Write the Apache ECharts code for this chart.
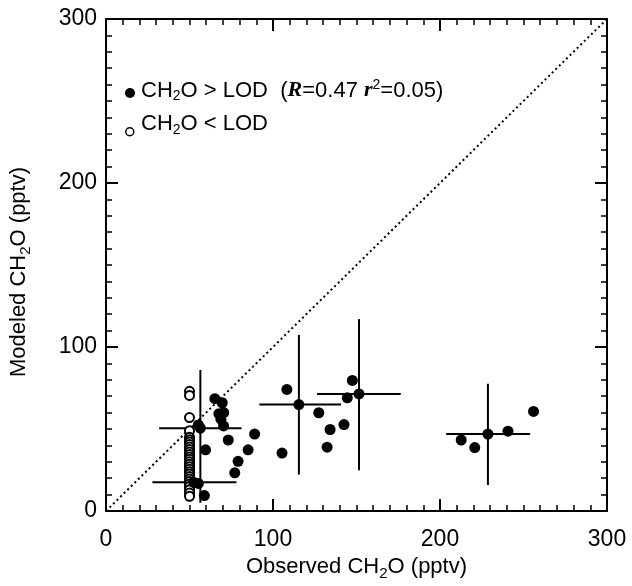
<!DOCTYPE html>
<html>
<head>
<meta charset="utf-8">
<script src="https://cdn.jsdelivr.net/npm/echarts@6/dist/echarts.min.js"></script>
<style>
html,body{margin:0;padding:0;background:#fff;}
#chart{width:632px;height:586px;}
</style>
</head>
<body>
<div id="chart"></div>
<script>
// ---- data ----
const xTicks = [0, 100, 200, 300];
const yTicks = [0, 100, 200, 300];

// CH2O > LOD (filled) individual points
const aboveX = [65.2, 69.6, 67.6, 70.5, 68.8, 70.4, 59.6, 73.2, 89.0, 85.1, 79.1, 77.1, 105.4, 55.3, 58.9, 55.3,
                108.3, 127.4, 134.2, 132.4, 142.5, 144.5, 147.5, 212.7, 220.8, 240.7, 256.0];
const aboveY = [68.5, 66.0, 59.3, 60.0, 56.0, 51.9, 37.3, 43.3, 46.9, 37.3, 30.3, 23.3, 35.3, 16.8, 9.4, 52.5,
                74.1, 59.9, 49.7, 38.9, 52.7, 69.0, 79.6, 43.3, 38.7, 48.7, 60.7];

// CH2O < LOD (open) points, a dense stack at the LOD
const belowX = [50, 50, 50, 50, 50, 50, 50, 50, 50, 50, 50, 50, 50, 50, 50, 50, 50, 50, 50, 50, 50, 50, 50, 50, 50, 50, 50, 50];
const belowY = [73, 70.5, 57, 49, 45, 43.5, 42, 40.5, 39, 37.5, 36, 34.5, 33, 31.5, 30, 28.5, 27, 25.5, 24, 22.5, 21, 19.5, 18, 16.5, 15, 13, 11, 9];

// binned means with spread bars
const meanX   = [56.5, 52.5, 115.5, 151.5, 228.7];
const meanY   = [50.5, 17.5, 64.9, 71.4, 46.9];
const meanXlo = [31.8, 27.8, 91.8, 126.4, 203.7];
const meanXhi = [81.1, 78.1, 140.7, 176.5, 254.0];
const meanYlo = [5.0, 8.0, 22.2, 24.8, 15.8];
const meanYhi = [86.0, 30.0, 107.4, 117.0, 77.6];

// 1:1 line
const oneToOne = [[0, 0], [300, 300]];

// ---- chart ----
const FONT = '"Liberation Sans", Arial, Helvetica, sans-serif';
const zip = (a, b) => a.map((v, i) => [v, b[i]]);
const errData = meanX.map((v, i) => [v, meanY[i], meanXlo[i], meanXhi[i], meanYlo[i], meanYhi[i]]);

const nameRich = {
  n: {fontFamily: FONT, fontSize: 22, color: '#000'},
  s: {fontFamily: FONT, fontSize: 15, color: '#000', padding: [13, 0, 0, 0]}
};

function axisCommon(showLabel, pos) {
  return {
    type: 'value', min: 0, max: 300, interval: 100, position: pos,
    axisLine: {show: true, onZero: false, lineStyle: {color: '#000', width: 2}},
    axisTick: {show: true, inside: true, length: 12, lineStyle: {color: '#000', width: 2}},
    minorTick: {show: true, splitNumber: 10, length: 6, lineStyle: {color: '#000', width: 1.5}},
    splitLine: {show: false},
    axisLabel: {show: showLabel, color: '#000', fontFamily: FONT, fontSize: 23}
  };
}

const xBottom = Object.assign(axisCommon(true, 'bottom'), {
  name: '{n|Observed CH}{s|2}{n|O (pptv)}', nameLocation: 'middle', nameGap: 42,
  nameTextStyle: {rich: nameRich}
});
xBottom.axisLabel.margin = 17;
const xTop = axisCommon(false, 'top');
const yLeft = Object.assign(axisCommon(true, 'left'), {
  name: '{n|Modeled CH}{s|2}{n|O (pptv)}', nameLocation: 'middle', nameGap: 73,
  nameTextStyle: {rich: nameRich, padding: [0, 14, 0, 0]}
});
yLeft.axisLabel.margin = 9;
const yRight = axisCommon(false, 'right');

const legRich = {
  n: {fontFamily: FONT, fontSize: 22, color: '#000'},
  s: {fontFamily: FONT, fontSize: 14, color: '#000', padding: [12, 0, 0, 0]},
  r: {fontFamily: '"Liberation Serif", "Times New Roman", serif', fontSize: 22, fontWeight: 'bold', fontStyle: 'italic', color: '#000'},
  p: {fontFamily: FONT, fontSize: 14, color: '#000', padding: [0, 0, 11, 0]}
};

const chart = echarts.init(document.getElementById('chart'), null, {renderer: 'canvas'});
chart.setOption({
  backgroundColor: '#fff',
  animation: false,
  grid: {left: 104, top: 19, right: 25, bottom: 68, containLabel: false},
  xAxis: [xBottom, xTop],
  yAxis: [yLeft, yRight],
  graphic: [
    {type: 'circle', left: 125, top: 88, shape: {r: 5}, style: {fill: '#000'}},
    {type: 'text', left: 141, top: 78, style: {
      text: '{n|CH}{s|2}{n|O > LOD  (}{r|R}{n|=0.47 }{r|r}{p|2}{n|=0.05)}', rich: legRich}},
    {type: 'circle', left: 125, top: 127, shape: {r: 4}, style: {fill: '#fff', stroke: '#000', lineWidth: 1.5}},
    {type: 'text', left: 141, top: 113, style: {
      text: '{n|CH}{s|2}{n|O < LOD}', rich: legRich}}
  ],
  series: [
    {
      type: 'line', data: oneToOne, symbol: 'none', silent: true,
      lineStyle: {color: '#000', width: 2, type: [2, 3]}, z: 1
    },
    {
      type: 'custom', data: errData, z: 3,
      encode: {x: [0, 2, 3], y: [1, 4, 5]},
      renderItem: function (params, api) {
        const x = api.value(0), y = api.value(1);
        const a = api.coord([api.value(2), y]), b = api.coord([api.value(3), y]);
        const c = api.coord([x, api.value(4)]), d = api.coord([x, api.value(5)]);
        return {type: 'group', children: [
          {type: 'line', shape: {x1: a[0], y1: a[1], x2: b[0], y2: b[1]}, style: {stroke: '#000', lineWidth: 2}},
          {type: 'line', shape: {x1: c[0], y1: c[1], x2: d[0], y2: d[1]}, style: {stroke: '#000', lineWidth: 2}}
        ]};
      }
    },
    {
      type: 'scatter', data: zip(belowX, belowY), symbol: 'circle', symbolSize: 9, z: 4,
      itemStyle: {color: '#fff', borderColor: '#000', borderWidth: 2, opacity: 1}
    },
    {
      type: 'scatter', data: zip(aboveX, aboveY), symbol: 'circle', symbolSize: 11, z: 5,
      itemStyle: {color: '#000', opacity: 1}
    },
    {
      type: 'scatter', data: zip(meanX, meanY), symbol: 'circle', symbolSize: 11, z: 5,
      itemStyle: {color: '#000', opacity: 1}
    }
  ]
});
</script>
</body>
</html>
